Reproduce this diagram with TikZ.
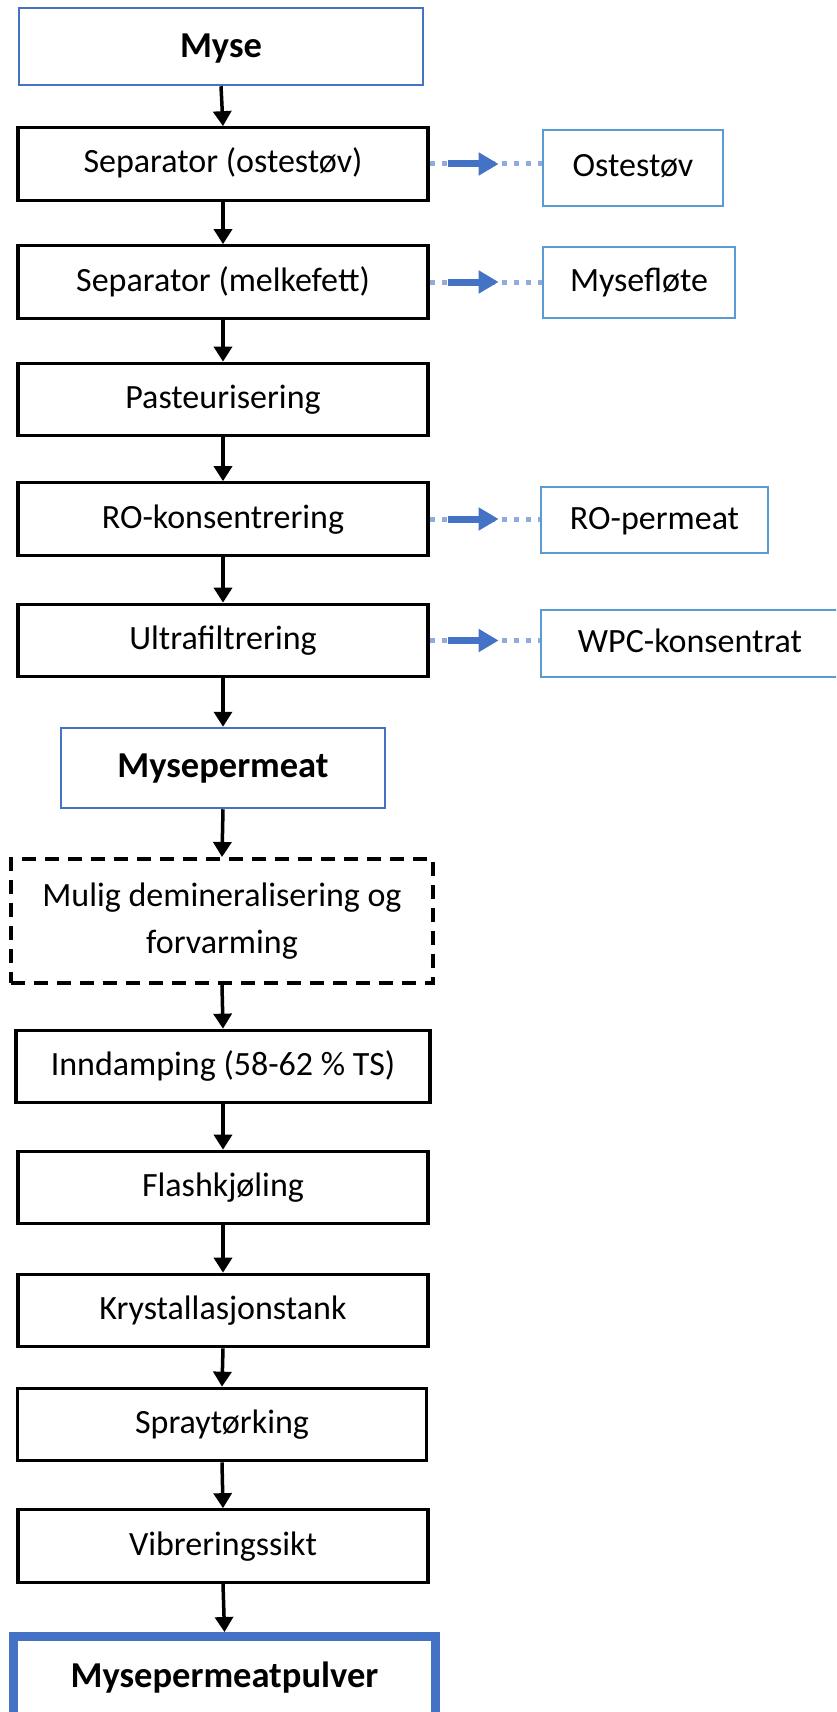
\documentclass[tikz,border=0pt]{standalone}
\usepackage{fontspec}
\setmainfont{Carlito}
\usetikzlibrary{arrows.meta}
\definecolor{officeblue}{HTML}{4472C4}
\definecolor{sideblue}{HTML}{5B9BD5}
\definecolor{dotblue}{HTML}{8FAADC}

\begin{document}
\begin{tikzpicture}[x=1pt,y=-1pt,
  stepbox/.style={draw=black, line width=3.2pt, rectangle, inner sep=0pt,
    minimum width=410pt, minimum height=72.5pt,
    text height=18pt, text depth=0pt,
    font=\fontsize{34}{47}\selectfont},
  keybox/.style={draw=officeblue, line width=2.5pt, rectangle, inner sep=0pt,
    text height=23pt, text depth=0pt,
    font=\fontsize{36.5}{44}\selectfont\bfseries},
  sidebox/.style={draw=sideblue, line width=2.5pt, rectangle, inner sep=0pt,
    text height=18pt, text depth=0pt,
    font=\fontsize{34}{40}\selectfont},
  optbox/.style={draw=black, rectangle, inner sep=0pt, align=center,
    dash pattern=on 14pt off 9pt, line width=4pt,
    font=\fontsize{34}{47}\selectfont},
  flow/.style={draw=black, line width=3.5pt,
    -{Triangle[width=18pt,length=15pt]}},
  sidedots/.style={draw=dotblue, line width=5pt, dash pattern=on 5pt off 7pt},
  sidearrow/.style={draw=officeblue, line width=7pt,
    -{Triangle[width=22pt,length=20pt]}}
]
\path[use as bounding box] (0,0) rectangle (836,1712);
\clip (0,0) rectangle (836,1712);

% main process column
\node[keybox, text depth=-4pt, minimum width=404pt, minimum height=77pt] (myse) at (221,46.5) {Myse};
\node[stepbox] (sep1) at (223,164) {Separator (ostestøv)};
\node[stepbox] (sep2) at (223,282) {Separator (melkefett)};
\node[stepbox] (past) at (223,399.5) {Pasteurisering};
\node[stepbox] (ro) at (223,519) {RO-konsentrering};
\node[stepbox] (uf) at (223,640.5) {Ultrafiltrering};
\node[keybox, text depth=3.6pt, minimum width=324pt, minimum height=80pt] (mp) at (223,768) {Mysepermeat};
\node[optbox, minimum width=422pt, minimum height=124pt] (dem) at (222,921)
  {Mulig demineralisering og\\forvarming};
\node[stepbox, minimum width=414pt] (inn) at (223,1066.5) {Inndamping (58-62 \% TS)};
\node[stepbox] (flash) at (223,1187.5) {Flashkjøling};
\node[stepbox] (kryst) at (223,1310.5) {Krystallasjonstank};
\node[stepbox, minimum width=409pt] (spray) at (222,1424.5) {Spraytørking};
\node[stepbox] (vib) at (223,1546) {Vibreringssikt};
\node[keybox, line width=9pt, minimum width=422pt, minimum height=79.5pt] (pulver)
  at (224.5,1676.25) {Mysepermeatpulver};

% side streams
\node[sidebox, minimum width=180pt, minimum height=76pt] (ost) at (633,168) {Ostestøv};
\node[sidebox, minimum width=192pt, minimum height=71pt] (flote) at (639,282.5) {Mysefløte};
\node[sidebox, minimum width=227pt, minimum height=66pt] (rop) at (654.5,520) {RO-permeat};
\node[sidebox, minimum width=298pt, minimum height=67pt] (wpc) at (690,643.5) {WPC-konsentrat};

% main flow
\foreach \a/\b in {myse/sep1, sep1/sep2, sep2/past, past/ro, ro/uf, uf/mp,
                   mp/dem, dem/inn, inn/flash, flash/kryst, kryst/spray,
                   spray/vib, vib/pulver}
  \draw[flow] (\a.south) -- (\b.north);

% side outlets
\foreach \a/\b in {sep1/ost, sep2/flote, ro/rop, uf/wpc} {
  \draw[sidedots] (\a.east) -- (\a.east -| \b.west);
  \draw[sidearrow] ([xshift=18pt]\a.east) -- ([xshift=69pt]\a.east);
}
\end{tikzpicture}
\end{document}
